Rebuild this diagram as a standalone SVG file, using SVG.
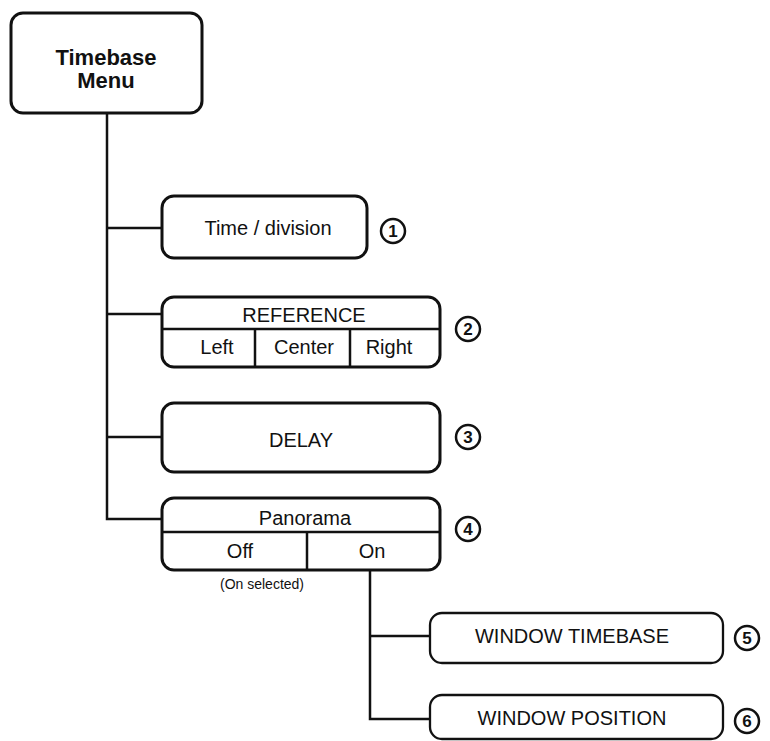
<svg xmlns="http://www.w3.org/2000/svg" width="770" height="741" viewBox="0 0 770 741">
<style>
.bg{fill:#fff}
.box{fill:#fff;stroke:#111;stroke-width:3}
.wbox{fill:#fff;stroke:#111;stroke-width:2.3}
.div{stroke:#111;stroke-width:2.5;fill:none}
.conn{stroke:#111;stroke-width:2.5;fill:none}
.t{font-family:"Liberation Sans",Arial,sans-serif;font-size:20px;fill:#111;text-anchor:middle}
.tb{font-family:"Liberation Sans",Arial,sans-serif;font-size:22px;font-weight:bold;fill:#111;text-anchor:middle}
.small{font-family:"Liberation Sans",Arial,sans-serif;font-size:14px;fill:#111;text-anchor:middle}
.num{fill:#fff;stroke:#111;stroke-width:2.5}
.nt{font-family:"Liberation Sans",Arial,sans-serif;font-size:17px;font-weight:bold;fill:#111;text-anchor:middle}
</style>
<rect class="bg" x="0" y="0" width="770" height="741"/>
<g id="connectors">
<polyline class="conn" points="107,113 107,519 162,519"/>
<line class="conn" x1="107" y1="228" x2="162" y2="228"/>
<line class="conn" x1="107" y1="314" x2="162" y2="314"/>
<line class="conn" x1="107" y1="437" x2="162" y2="437"/>
<polyline class="conn" points="370,570 370,719 430,719"/>
<line class="conn" x1="370" y1="636" x2="430" y2="636"/>
</g>
<g id="timebase-menu">
<rect class="box" x="11" y="13" width="191" height="100" rx="12"/>
<text class="tb" x="106" y="65">Timebase</text>
<text class="tb" x="106" y="88">Menu</text>
</g>
<g id="time-division">
<rect class="box" x="162" y="196" width="205" height="62" rx="12"/>
<text class="t" x="268" y="235">Time / division</text>
<circle class="num" cx="393" cy="231" r="12"/>
<text class="nt" x="393" y="237">1</text>
</g>
<g id="reference">
<rect class="box" x="162" y="297" width="278" height="70" rx="12"/>
<line class="div" x1="162" y1="329" x2="440" y2="329"/>
<line class="div" x1="255" y1="329" x2="255" y2="367"/>
<line class="div" x1="350" y1="329" x2="350" y2="367"/>
<text class="t" x="304" y="322">REFERENCE</text>
<text class="t" x="217" y="354">Left</text>
<text class="t" x="304" y="354">Center</text>
<text class="t" x="389" y="354">Right</text>
<circle class="num" cx="468" cy="329" r="12"/>
<text class="nt" x="468" y="335">2</text>
</g>
<g id="delay">
<rect class="box" x="162" y="403" width="278" height="69" rx="12"/>
<text class="t" x="301" y="447">DELAY</text>
<circle class="num" cx="468" cy="437" r="12"/>
<text class="nt" x="468" y="443">3</text>
</g>
<g id="panorama">
<rect class="box" x="162" y="498" width="278" height="72" rx="12"/>
<line class="div" x1="162" y1="532" x2="440" y2="532"/>
<line class="div" x1="307" y1="532" x2="307" y2="570"/>
<text class="t" x="305" y="525">Panorama</text>
<text class="t" x="240" y="558">Off</text>
<text class="t" x="372" y="558">On</text>
<circle class="num" cx="468" cy="529" r="12"/>
<text class="nt" x="468" y="535">4</text>
<text class="small" x="262" y="589">(On selected)</text>
</g>
<g id="window-timebase">
<rect class="wbox" x="430" y="613" width="293" height="50" rx="12"/>
<text class="t" x="572" y="643">WINDOW TIMEBASE</text>
<circle class="num" cx="747" cy="638" r="12"/>
<text class="nt" x="747" y="644">5</text>
</g>
<g id="window-position">
<rect class="wbox" x="430" y="695" width="293" height="44" rx="12"/>
<text class="t" x="572" y="725">WINDOW POSITION</text>
<circle class="num" cx="747" cy="721" r="12"/>
<text class="nt" x="747" y="727">6</text>
</g>
</svg>
